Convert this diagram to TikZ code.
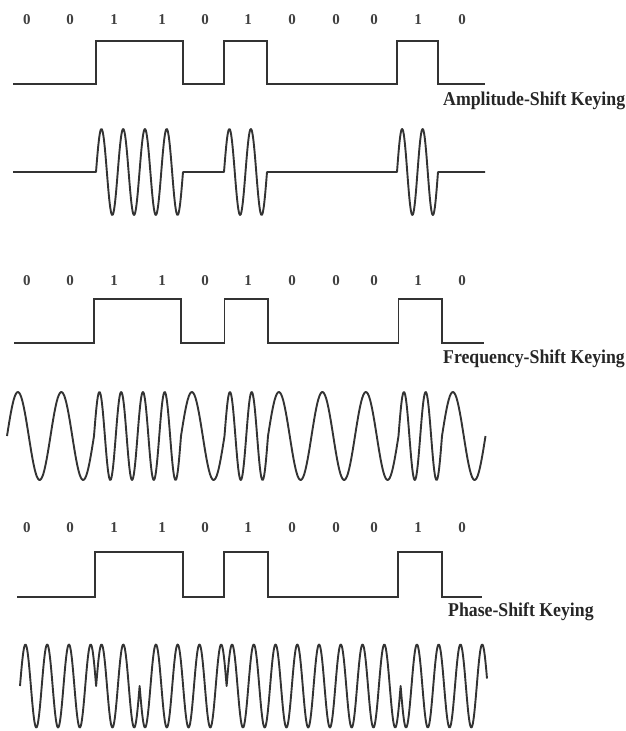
\documentclass[tikz,border=0pt]{standalone}
\usepackage{fontspec}
\usepackage{graphicx}
\setmainfont{Liberation Serif}
\begin{document}
\begin{tikzpicture}[x=1pt,y=-1pt,
  sig/.style={line width=1.7pt, draw=black!80, line join=miter},
  wave/.style={line width=1.9pt, draw=black!80, line join=round},
  bitlbl/.style={font=\fontsize{15}{16}\selectfont\bfseries, text=black!75, anchor=base, inner sep=0pt},
  keylbl/.style={font=\fontsize{17.75}{20}\selectfont\bfseries, text=black!85, anchor=base west, inner sep=0pt}]
\useasboundingbox (0,0) rectangle (626,731);

% bit labels
\foreach \xx/\b [count=\i] in {27/0,70/0,114/1,162/1,205/0,248/1,292/0,336/0,374/0,418/1,462/0}{
  \node[bitlbl] (a\i) at (\xx,24) {\b};
  \node[bitlbl] (f\i) at (\xx,285) {\b};
  \node[bitlbl] (p\i) at (\xx,532) {\b};
}

% ---------- Amplitude-Shift Keying ----------
\draw[sig] (13,84) -- (96,84) -- (96,41) -- (183,41) -- (183,84) -- (224,84) -- (224,41)
  -- (267,41) -- (267,84) -- (397,84) -- (397,41) -- (438,41) -- (438,84) -- (485,84);
\node[keylbl] (ask) at (443,105) {\scalebox{1}[1.1]{Amplitude-Shift Keying}};
\draw[wave] (13,172) -- (96,172)
  -- plot[domain=96:183, samples=160] (\x,{172-43*sin(((\x-96)/87)*1440)})
  -- (224,172)
  -- plot[domain=224:267, samples=80] (\x,{172-43*sin(((\x-224)/43)*720)})
  -- (397,172)
  -- plot[domain=397:438, samples=80] (\x,{172-43*sin(((\x-397)/41)*720)})
  -- (485,172);

% ---------- Frequency-Shift Keying ----------
\draw[sig] (14,343) -- (94,343) -- (94,299) -- (181,299) -- (181,343) -- (224.5,343) -- (224.5,299)
  -- (268,299) -- (268,343) -- (398.5,343) -- (398.5,299) -- (442,299) -- (442,343) -- (484,343);
\node[keylbl] (fsk) at (443,363) {\scalebox{1}[1.1]{Frequency-Shift Keying}};
\draw[wave] plot[domain=7:94, samples=80] (\x,{436-44*sin(((\x-7)/87)*720)})
  -- plot[domain=94:181, samples=160] (\x,{436-44*sin(((\x-94)/87)*1440)})
  -- plot[domain=181:224.5, samples=40] (\x,{436-44*sin(((\x-181)/43.5)*360)})
  -- plot[domain=224.5:268, samples=80] (\x,{436-44*sin(((\x-224.5)/43.5)*720)})
  -- plot[domain=268:398.5, samples=120] (\x,{436-44*sin(((\x-268)/130.5)*1080)})
  -- plot[domain=398.5:442, samples=80] (\x,{436-44*sin(((\x-398.5)/43.5)*720)})
  -- plot[domain=442:485.5, samples=40] (\x,{436-44*sin(((\x-442)/43.5)*360)});

% ---------- Phase-Shift Keying ----------
\draw[sig] (17,597) -- (95,597) -- (95,552) -- (183,552) -- (183,597) -- (224,597) -- (224,552)
  -- (268,552) -- (268,597) -- (398,597) -- (398,552) -- (442,552) -- (442,597) -- (482,597);
\node[keylbl] (psk) at (448,616) {\scalebox{1}[1.1]{Phase-Shift Keying}};
\draw[wave] plot[domain=20:96.125, samples=140] (\x,{686-41.5*sin(((\x-20)/21.75)*360)})
  -- plot[domain=96.125:139.625, samples=80] (\x,{686+41.5*sin(((\x-20)/21.75)*360)})
  -- plot[domain=139.625:226.625, samples=160] (\x,{686-41.5*sin(((\x-20)/21.75)*360)})
  -- plot[domain=226.625:400.625, samples=320] (\x,{686+41.5*sin(((\x-20)/21.75)*360)})
  -- plot[domain=400.625:487, samples=160] (\x,{686-41.5*sin(((\x-20)/21.75)*360)});
\end{tikzpicture}
\end{document}
